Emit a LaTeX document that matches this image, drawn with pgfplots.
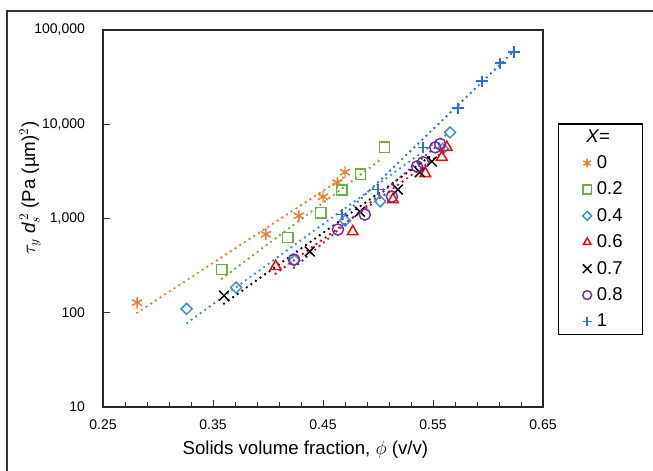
\documentclass[border=0pt]{standalone}
\usepackage{pgfplots}
\pgfplotsset{compat=1.18}
\usepackage{fontspec}
\setmainfont{Liberation Sans}
\usetikzlibrary{plotmarks}
\definecolor{cOr}{HTML}{ED7D31}
\definecolor{cGr}{HTML}{70AD47}
\definecolor{cLb}{HTML}{3C8FDC}
\definecolor{cRd}{HTML}{FF0000}
\definecolor{cPu}{HTML}{7030A0}
\definecolor{cDb}{HTML}{2F6FD2}
\begin{document}
\begin{tikzpicture}
\useasboundingbox (0,0) rectangle (489.75pt,353.25pt);
\draw[line width=1pt, color=black!80] (5.25pt,0pt) -- (5.25pt,345pt) -- (489.75pt,345pt);
\begin{axis}[
 at={(77.25pt,48pt)}, anchor=south west,
 scale only axis, width=330pt, height=282.75pt,
 xmin=0.25, xmax=0.65, ymin=10, ymax=100000, ymode=log, log basis y=10,
 xtick={0.25,0.35,0.45,0.55,0.65},
 xticklabels={0.25,0.35,0.45,0.55,0.65},
 minor x tick num=4,
 ytick={10,100,1000,10000,100000},
 yticklabels={10,100,{1,000},{10,000},{100,000}},
 tick align=inside, xtick pos=bottom, ytick pos=left,
 major tick length=5pt, minor tick length=3.5pt,
 axis line style={line width=1.1pt, black!85},
 tick style={black!80, line width=0.6pt},
 tick label style={font=\fontsize{10.5}{12}\selectfont},
 xticklabel style={yshift=-6pt},
 yticklabel style={xshift=-10pt},
 xlabel={Solids volume fraction, $\phi$ (v/v)},
 ylabel={$\tau_y$ \textit{d}$_s^{\,2}$ (Pa (µm)$^2$)},
 label style={font=\fontsize{14}{16}\selectfont},
 xlabel style={at={(axis description cs:0.46,-0.112)}, anchor=center},
 ylabel style={at={(axis description cs:-0.166,0.58)}, anchor=center},
 legend style={at={(axis description cs:1.034,0.752)}, anchor=north west, draw=black, line width=0.8pt, font=\fontsize{13.9}{16}\selectfont, inner xsep=13pt, inner ysep=2pt, row sep=4.6pt, /tikz/every odd column/.append style={column sep=2pt}},
 legend image post style={mark size=3.3pt},
 legend cell align=left,
 trend/.style={line width=2pt, dash pattern=on 0pt off 4.2pt, line cap=round, forget plot},
]
\addlegendimage{empty legend}
\addlegendentry{\hspace*{-8pt}\textit{X}=}
% trend lines
\addplot[trend, cOr] coordinates {(0.281,100) (0.472,2900)};
\addplot[trend, cGr] coordinates {(0.358,230) (0.5045,4400)};
\addplot[trend, cLb] coordinates {(0.3264,78) (0.5627,7830)};
\addplot[trend, cRd] coordinates {(0.407,260) (0.5625,5400)};
\addplot[trend, black] coordinates {(0.36,125) (0.55,4800)};
\addplot[trend, cPu] coordinates {(0.4236,300) (0.5565,6300)};
\addplot[trend, cDb] coordinates {(0.467,1030) (0.6236,59600)};
% data
\addplot[cOr, only marks, mark=asterisk, mark size=4.4pt, mark options={line width=1.1pt}] coordinates {
(0.281,128) (0.398,680) (0.428,1070) (0.450,1700) (0.463,2400) (0.470,3100)};
\addlegendentry{0}
\addplot[cGr, only marks, mark=square, mark size=3.8pt, mark options={line width=1.1pt}] coordinates {
(0.358,287) (0.418,630) (0.448,1150) (0.467,2000) (0.484,2950) (0.506,5700)};
\addlegendentry{0.2}
\addplot[cLb, only marks, mark=diamond, mark size=4.1pt, mark options={line width=1.1pt, xscale=1.333}] coordinates {
(0.326,110) (0.371,185) (0.424,360) (0.470,950) (0.502,1520) (0.559,5500) (0.5655,8200)};
\addlegendentry{0.4}
\addplot[cRd, only marks, mark=triangle, mark size=4.6pt, mark options={line width=1.1pt}] coordinates {
(0.407,310) (0.477,725) (0.5136,1590) (0.543,3000) (0.558,4470) (0.5625,5700)};
\addlegendentry{0.6}
\addplot[black, only marks, mark=x, mark size=3.7pt, mark options={line width=1.1pt, scale=1.4}] coordinates {
(0.360,152) (0.438,447) (0.4836,1180) (0.518,2030) (0.538,3100) (0.549,4030)};
\addlegendentry{0.7}
\addplot[cPu, only marks, mark=o, mark size=4.2pt, mark options={line width=1.1pt}] coordinates {
(0.4236,366) (0.4636,764) (0.488,1100) (0.5127,1710) (0.5355,3570) (0.541,3950) (0.552,5690) (0.5565,6170)};
\addlegendentry{0.8}
\addplot[cDb, only marks, mark=+, mark size=4.2pt, mark options={line width=1.2pt}] coordinates {
(0.467,1100) (0.500,2040) (0.541,5690) (0.5727,14800) (0.5945,28600) (0.611,44500) (0.6236,58300)};
\addlegendentry{1}
\end{axis}
\end{tikzpicture}
\end{document}
